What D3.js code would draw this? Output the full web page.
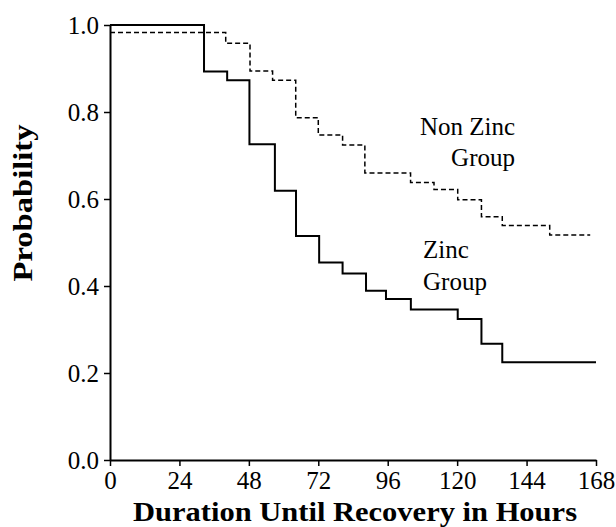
<!DOCTYPE html>
<html>
<head>
  <script src="https://d3js.org/d3.v7.min.js"></script>
  <style>
    body { margin: 0; background: #fff; }
  </style>
</head>
<body>
  <script>
    // Kaplan-Meier style step curves
    const zincHours = [0, 32.5, 40.5, 48.2, 57, 64.3, 72.3, 80.4, 88.5, 95.4, 104, 120.2, 128.4, 135.6, 168];
    const zincProb = [1.0, 0.893, 0.873, 0.726, 0.619, 0.515, 0.454, 0.429, 0.389, 0.370, 0.346, 0.324, 0.267, 0.225, 0.225];

    const nonZincHours = [0, 40, 48.4, 56.2, 64.2, 72, 80.4, 88.1, 103.9, 112, 120.2, 128.4, 135.6, 152, 166];
    const nonZincProb = [0.983, 0.958, 0.894, 0.873, 0.787, 0.747, 0.724, 0.660, 0.638, 0.622, 0.598, 0.559, 0.539, 0.517, 0.517];

    const xTicks = [0, 24, 48, 72, 96, 120, 144, 168];
    const yTicks = [0, 0.2, 0.4, 0.6, 0.8, 1.0];

    const font = "'Liberation Serif', 'Times New Roman', 'DejaVu Serif', serif";

    const width = 616;
    const height = 527;
    const margin = { top: 25, right: 20, bottom: 67, left: 110 };

    const svg = d3.select("body")
      .append("svg")
      .attr("width", width)
      .attr("height", height)
      .style("font-family", font);

    const x = d3.scaleLinear()
      .domain([0, 168])
      .range([margin.left, 596]);

    const y = d3.scaleLinear()
      .domain([0, 1])
      .range([height - margin.bottom, margin.top]);

    const xAxis = svg.append("g")
      .attr("transform", `translate(0, ${y(0)})`)
      .call(d3.axisBottom(x).tickValues(xTicks).tickSize(6).tickSizeOuter(0).tickPadding(5));

    const yAxis = svg.append("g")
      .attr("transform", `translate(${x(0)}, 0)`)
      .call(d3.axisLeft(y).tickValues(yTicks).tickSize(6).tickSizeOuter(0).tickPadding(5)
        .tickFormat(d3.format(".1f")));

    [xAxis, yAxis].forEach(g => {
      g.attr("font-family", null);
      g.select(".domain").attr("stroke-width", 2);
      g.selectAll(".tick line").attr("stroke-width", 1.5);
      g.selectAll(".tick text")
        .style("font-family", font)
        .style("font-size", "25px");
    });

    const line = d3.line()
      .x(d => x(d[0]))
      .y(d => y(d[1]))
      .curve(d3.curveStepAfter);

    svg.append("path")
      .datum(d3.zip(nonZincHours, nonZincProb))
      .attr("fill", "none")
      .attr("stroke", "#000")
      .attr("stroke-width", 1.5)
      .attr("stroke-dasharray", "5,3")
      .attr("d", line);

    svg.append("path")
      .datum(d3.zip(zincHours, zincProb))
      .attr("fill", "none")
      .attr("stroke", "#000")
      .attr("stroke-width", 2)
      .attr("d", line);

    // curve labels
    const label = (txt, lx, ly, anchor) => svg.append("text")
      .attr("x", lx)
      .attr("y", ly)
      .attr("text-anchor", anchor)
      .style("font-family", font)
      .style("font-size", "25px")
      .text(txt);

    label("Non Zinc", 515, 135, "end");
    label("Group", 515, 166, "end");
    label("Zinc", 423, 258, "start");
    label("Group", 423, 290, "start");

    // axis titles
    svg.append("text")
      .attr("x", 355)
      .attr("y", 521)
      .attr("text-anchor", "middle")
      .style("font-family", font)
      .style("font-size", "28px")
      .style("font-weight", "bold")
      .attr("textLength", 444)
      .attr("lengthAdjust", "spacingAndGlyphs")
      .text("Duration Until Recovery in Hours");

    svg.append("text")
      .attr("transform", "translate(32, 203) rotate(-90)")
      .attr("text-anchor", "middle")
      .style("font-family", font)
      .style("font-size", "28px")
      .style("font-weight", "bold")
      .attr("textLength", 157)
      .attr("lengthAdjust", "spacingAndGlyphs")
      .text("Probability");
  </script>
</body>
</html>
